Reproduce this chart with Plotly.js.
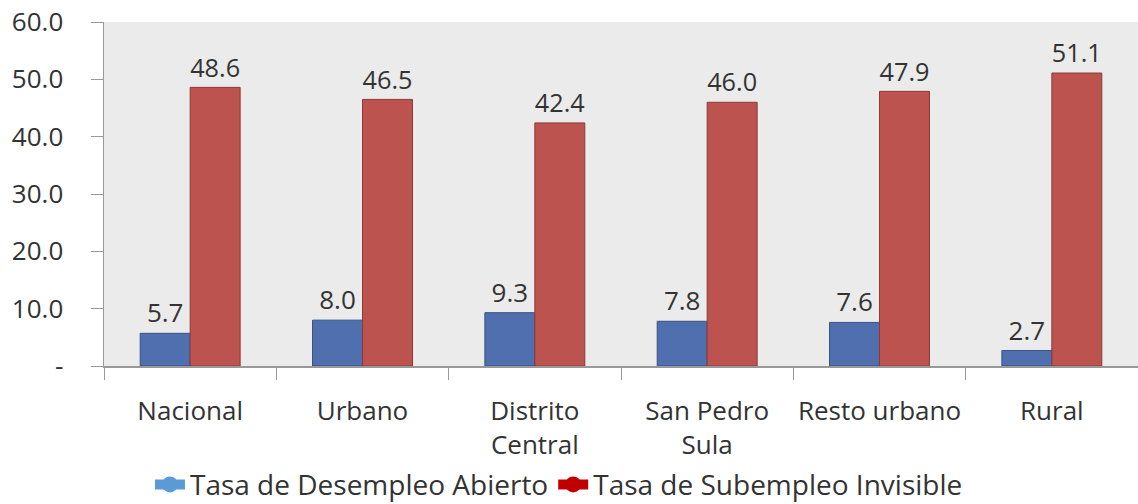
<!DOCTYPE html>
<html><head><meta charset="utf-8">
<script src="https://cdn.plot.ly/plotly-3.0.1.min.js"></script>
<style>html,body{margin:0;padding:0;background:#fff}#chart{width:1138px;height:504px}</style>
</head><body><div id="chart"></div>
<script>
var categories = ["Nacional", "Urbano", "Distrito<br>Central", "San Pedro<br>Sula", "Resto urbano", "Rural"];
var desempleo = [5.7, 8.0, 9.3, 7.8, 7.6, 2.7];
var subempleo = [48.6, 46.5, 42.4, 46.0, 47.9, 51.1];
var seriesNames = ["Tasa de Desempleo Abierto", "Tasa de Subempleo Invisible"];
var tickVals = [0, 10, 20, 30, 40, 50, 60];
var tickText = ["-", "10.0", "20.0", "30.0", "40.0", "50.0", "60.0"];

var font = "Open Sans, Noto Sans, sans-serif";
var data = [
  {type:"bar", x:categories, y:desempleo, name:seriesNames[0], showlegend:false,
   marker:{color:"#4f6fae", line:{color:"#3a5283", width:1}},
   text:desempleo.map(function(v){return v.toFixed(1);}), textposition:"outside",
   textfont:{size:26, color:"#333"}, cliponaxis:false},
  {type:"bar", x:categories, y:subempleo, name:seriesNames[1], showlegend:false,
   marker:{color:"#bd534f", line:{color:"#8a3a37", width:1}},
   text:subempleo.map(function(v){return v.toFixed(1);}), textposition:"outside",
   textfont:{size:26, color:"#333"}, cliponaxis:false},
  {type:"scatter", mode:"lines+markers", x:[null], y:[null], name:seriesNames[0],
   line:{color:"#5b9bd5", width:13}, marker:{symbol:"circle", size:19, color:"#5b9bd5"}},
  {type:"scatter", mode:"lines+markers", x:[null], y:[null], name:seriesNames[1],
   line:{color:"#c00000", width:13}, marker:{symbol:"circle", size:19, color:"#c00000"}}
];
var layout = {
  width:1138, height:504,
  margin:{l:104, r:0, t:22, b:138, autoexpand:false},
  paper_bgcolor:"#ffffff", plot_bgcolor:"#ebebeb",
  barmode:"group", bargap:0.42, bargroupgap:0,
  font:{family:font, color:"#333", size:26},
  xaxis:{type:"category", showgrid:false, zeroline:false, showline:true, linecolor:"#999", linewidth:1.5,
         ticks:"outside", tickson:"boundaries", ticklen:12, tickcolor:"#999",
         ticklabelstandoff:21, tickfont:{size:26, color:"#333"}, automargin:false},
  yaxis:{range:[0,60], tickvals:tickVals, ticktext:tickText, showgrid:false, zeroline:false,
         showline:true, linecolor:"#999", linewidth:1.5, ticks:"outside", ticklen:12, tickcolor:"#999",
         ticklabelstandoff:22, tickfont:{size:26, color:"#333"}, automargin:false},
  legend:{orientation:"h", x:0.44, xanchor:"center", y:-0.345, yanchor:"middle",
          font:{size:28, color:"#333"}, itemwidth:30, tracegroupgap:0, bgcolor:"rgba(0,0,0,0)"},
  showlegend:true
};
Plotly.newPlot("chart", data, layout, {displayModeBar:false, staticPlot:true});
</script></body></html>
